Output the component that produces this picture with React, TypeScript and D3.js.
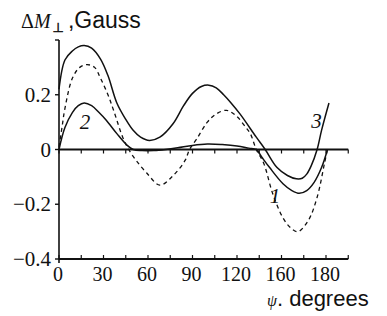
import React from 'react'
import * as d3 from 'd3'

// angles in degrees, values in Gauss
const curve1Deg = [0, 2, 4, 9, 14, 19, 24, 28, 33, 37, 43, 47, 52, 59, 68, 77, 85, 88, 93, 100, 106, 113, 120, 126, 129, 133, 138, 144, 151, 156, 161, 168, 174, 179, 181]
const curve1Val = [0.01, 0.08, 0.15, 0.26, 0.3, 0.31, 0.3, 0.26, 0.2, 0.14, 0.044, 0, -0.04, -0.085, -0.13, -0.095, -0.04, 0, 0.04, 0.1, 0.13, 0.143, 0.12, 0.08, 0.058, 0, -0.05, -0.16, -0.25, -0.285, -0.3, -0.26, -0.175, -0.05, 0]

const curve2Deg = [0, 4, 9, 13, 17, 22, 27, 32, 39, 46, 50, 56, 64, 72, 80, 90, 100, 110, 120, 128, 133, 137, 142, 151, 157, 162, 167, 172, 177, 181]
const curve2Val = [0, 0.08, 0.135, 0.16, 0.17, 0.16, 0.135, 0.106, 0.058, 0.015, 0, -0.004, -0.004, 0, 0.006, 0.015, 0.02, 0.018, 0.013, 0.005, 0, -0.03, -0.066, -0.125, -0.15, -0.16, -0.15, -0.12, -0.066, 0]

const curve3Deg = [0, 4, 9, 13, 17, 22, 28, 33, 39, 45, 50, 55, 61, 68, 77, 84, 90, 96, 101, 106, 111, 116, 122, 133, 139, 147, 154, 160, 164, 167, 170, 174, 177, 182]
const curve3Val = [0.22, 0.327, 0.36, 0.375, 0.38, 0.37, 0.33, 0.27, 0.17, 0.11, 0.07, 0.045, 0.033, 0.045, 0.095, 0.16, 0.205, 0.23, 0.235, 0.225, 0.2, 0.17, 0.13, 0.045, 0, -0.066, -0.095, -0.107, -0.105, -0.09, -0.06, 0, 0.07, 0.17]

const xTickValues = [0, 30, 60, 90, 120, 150, 180]
const xTickLabels = ['0', '30', '60', '90', '120', '160', '180']
const yTickValues = [0.2, 0, -0.2, -0.4]
const yTickLabels = ['0.2', '0', '\u22120.2', '\u22120.4']

const W = 387
const H = 316
const ink = '#111'

export default function App() {
  const x = d3.scaleLinear().domain([0, 180]).range([59, 326])
  const y = d3.scaleLinear().domain([-0.4, 0.4]).range([259, 40])

  const minorX = d3.range(0, 196, 15)

  const line = d3.line<[number, number]>()
    .x(d => x(d[0]))
    .y(d => y(d[1]))
    .curve(d3.curveCatmullRom.alpha(0.5))

  const pts = (a: number[], b: number[]) => a.map((v, i) => [v, b[i]] as [number, number])

  const serif = '"Liberation Serif", "Times New Roman", serif'
  const sans = '"Liberation Sans", Arial, sans-serif'

  return (
    <svg width={W} height={H} style={{ position: 'absolute', left: 0, top: 0, background: '#fff' }}>
      <rect width={W} height={H} fill="#fff" />

      {/* title */}
      <text x={21} y={28} fontFamily={serif} fontSize={20} fill={ink}>
        <tspan>Δ</tspan>
        <tspan fontStyle="italic">M</tspan>
        <tspan fontFamily='"DejaVu Sans", sans-serif' fontSize={13} fill={ink} stroke={ink} strokeWidth={0.5} dx={2} dy={4}>⊥</tspan>
        <tspan fontFamily={sans} fontSize={23} dx={4} dy={-4}>,Gauss</tspan>
      </text>

      {/* y axis */}
      <line x1={x(0)} x2={x(0)} y1={y(0.4)} y2={y(-0.4) + 4} stroke={ink} strokeWidth={1.6} />
      {[0.4, ...yTickValues].map((v, i) => (
        <line key={'yt' + i} x1={x(0) - 4} x2={x(0)} y1={y(v)} y2={y(v)} stroke={ink} strokeWidth={1.4} />
      ))}
      {yTickValues.map((v, i) => (
        <text key={'yl' + i} x={51} y={y(v) + 7} textAnchor="end" fontFamily={serif} fontSize={21} fill={ink}>
          {yTickLabels[i]}
        </text>
      ))}

      {/* zero line */}
      <line x1={x(0)} x2={x(195)} y1={y(0)} y2={y(0)} stroke={ink} strokeWidth={1.8} />
      {minorX.map(v => (
        <line key={'zt' + v} x1={x(v)} x2={x(v)} y1={y(0)} y2={y(0) + 4} stroke={ink} strokeWidth={1.2} />
      ))}

      {/* bottom axis */}
      <line x1={x(0)} x2={x(195)} y1={y(-0.4)} y2={y(-0.4)} stroke={ink} strokeWidth={1.8} />
      {minorX.map(v => (
        <line key={'bt' + v} x1={x(v)} x2={x(v)} y1={y(-0.4)} y2={y(-0.4) - 4} stroke={ink} strokeWidth={1.2} />
      ))}
      {xTickValues.map((v, i) => (
        <text key={'xl' + i} x={x(v) - 1} y={281} textAnchor="middle" fontFamily={serif} fontSize={20} fill={ink}>
          {xTickLabels[i]}
        </text>
      ))}

      {/* curves */}
      <path d={line(pts(curve1Deg, curve1Val)) || ''} fill="none" stroke={ink} strokeWidth={1.3} strokeDasharray="4,3.5" />
      <path d={line(pts(curve2Deg, curve2Val)) || ''} fill="none" stroke={ink} strokeWidth={1.5} />
      <path d={line(pts(curve3Deg, curve3Val)) || ''} fill="none" stroke={ink} strokeWidth={1.5} />

      {/* curve labels */}
      <text x={x(14)} y={y(0.075)} fontFamily={serif} fontStyle="italic" fontSize={21} fill={ink}>2</text>
      <text x={x(142)} y={y(-0.195)} fontFamily={serif} fontStyle="italic" fontSize={21} fill={ink}>1</text>
      <text x={x(170)} y={y(0.08)} fontFamily={serif} fontStyle="italic" fontSize={21} fill={ink}>3</text>

      {/* x axis title */}
      <text x={267} y={306} fontFamily={serif} fill={ink}>
        <tspan fontStyle="italic" fontSize={16}>ψ</tspan>
        <tspan fontFamily={sans} fontSize={22}>. degrees</tspan>
      </text>
    </svg>
  )
}
